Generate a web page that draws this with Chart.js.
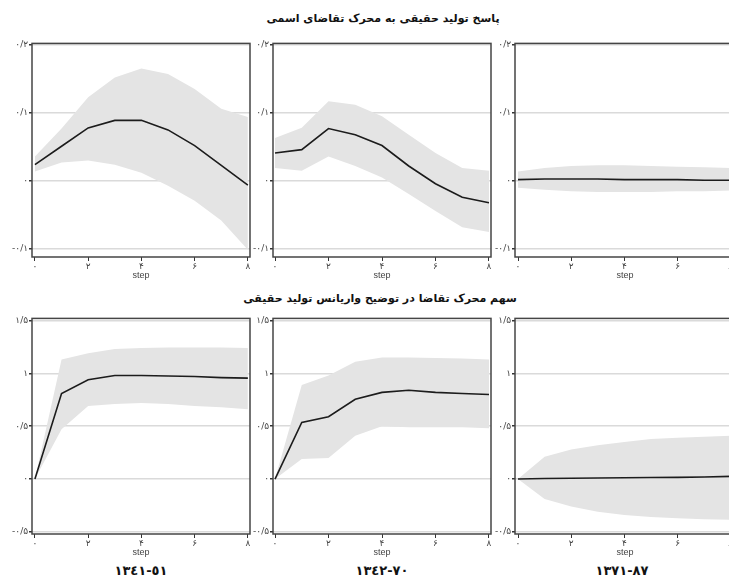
<!DOCTYPE html>
<html>
<head>
<meta charset="utf-8">
<script src="https://cdn.jsdelivr.net/npm/chart.js@4"></script>
<style>
    html, body { margin: 0; padding: 0; width: 729px; height: 580px; overflow: hidden; background: #fff; }
    canvas { position: absolute; }
    .title { position: absolute; font-family: 'DejaVu Sans', sans-serif; font-weight: bold; font-size: 11px; color: #111; text-align: center; white-space: nowrap; }
    .period { position: absolute; top: 563px; width: 160px; text-align: center; font-family: 'DejaVu Sans', sans-serif; font-weight: bold; font-size: 13px; color: #111; }
    .period span { unicode-bidi: bidi-override; direction: ltr; }
</style>
</head>
<body>
<div class="title" dir="rtl" style="left:233px; width:300px; top:12px;">پاسخ تولید حقیقی به محرک تقاضای اسمی</div>
<div class="title" dir="rtl" style="left:230px; width:300px; top:292px;">سهم محرک تقاضا در توضیح واریانس تولید حقیقی</div>

<canvas id="irf1" width="255" height="248" style="left:0px; top:37px;"></canvas>
<canvas id="irf2" width="253" height="248" style="left:243px; top:37px;"></canvas>
<canvas id="irf3" width="255" height="248" style="left:485px; top:37px;"></canvas>
<canvas id="fevd1" width="255" height="250" style="left:0px; top:312px;"></canvas>
<canvas id="fevd2" width="253" height="250" style="left:243px; top:312px;"></canvas>
<canvas id="fevd3" width="255" height="250" style="left:485px; top:312px;"></canvas>

<div class="period" style="left:61px;"><span>١٣٤١-٥١</span></div>
<div class="period" style="left:302px;"><span>١٣٤٢-٧٠</span></div>
<div class="period" style="left:542px;"><span>١٣٧١-٨٧</span></div>

<script>
// langkah horizon
const steps = [0, 1, 2, 3, 4, 5, 6, 7, 8];
const xTickValues = [0, 2, 4, 6, 8];
const xTickLabels = ['۰', '۲', '۴', '۶', '۸'];

// respon output riil terhadap guncangan permintaan nominal
const irfTickValues = [-0.1, 0, 0.1, 0.2];
const irfTickLabels = ['-۰/۱', '۰', '۰/۱', '۰/۲'];

const irfLine1 = [0.024, 0.051, 0.078, 0.089, 0.089, 0.075, 0.052, 0.023, -0.006];
const irfHigh1 = [0.036, 0.077, 0.123, 0.152, 0.165, 0.157, 0.135, 0.106, 0.094];
const irfLow1 = [0.014, 0.027, 0.030, 0.024, 0.012, -0.007, -0.029, -0.058, -0.101];

const irfLine2 = [0.041, 0.046, 0.077, 0.068, 0.052, 0.022, -0.004, -0.024, -0.032];
const irfHigh2 = [0.063, 0.078, 0.117, 0.112, 0.095, 0.068, 0.041, 0.019, 0.015];
const irfLow2 = [0.019, 0.015, 0.036, 0.022, 0.005, -0.019, -0.044, -0.068, -0.075];

const irfLine3 = [0.002, 0.003, 0.003, 0.003, 0.002, 0.002, 0.002, 0.001, 0.001];
const irfHigh3 = [0.014, 0.019, 0.022, 0.023, 0.023, 0.022, 0.021, 0.020, 0.019];
const irfLow3 = [-0.010, -0.013, -0.015, -0.016, -0.016, -0.016, -0.015, -0.015, -0.014];

// kontribusi guncangan permintaan pada varians output
const fevdTickValues = [-0.5, 0, 0.5, 1, 1.5];
const fevdTickLabels = ['-۰/۵', '۰', '۰/۵', '۱', '۱/۵'];

const fevdLine1 = [0, 0.81, 0.94, 0.98, 0.98, 0.975, 0.97, 0.96, 0.955];
const fevdHigh1 = [0, 1.13, 1.19, 1.23, 1.24, 1.245, 1.245, 1.245, 1.24];
const fevdLow1 = [0, 0.47, 0.69, 0.71, 0.72, 0.71, 0.69, 0.68, 0.66];

const fevdLine2 = [0, 0.535, 0.59, 0.755, 0.82, 0.84, 0.82, 0.81, 0.80];
const fevdHigh2 = [0, 0.89, 0.98, 1.11, 1.15, 1.15, 1.145, 1.14, 1.13];
const fevdLow2 = [0, 0.19, 0.20, 0.41, 0.50, 0.49, 0.49, 0.49, 0.48];

const fevdLine3 = [0, 0.005, 0.008, 0.01, 0.012, 0.014, 0.016, 0.02, 0.025];
const fevdHigh3 = [0, 0.21, 0.28, 0.32, 0.35, 0.38, 0.39, 0.40, 0.41];
const fevdLow3 = [0, -0.19, -0.26, -0.31, -0.34, -0.36, -0.37, -0.38, -0.385];

/**
 * Plugin kecil untuk menggambar kotak di sekeliling area grafik.
 */
const boxPlugin = {
    id: 'plotBox',
    afterDatasetsDraw(chart) {
        const a = chart.chartArea;
        const ctx = chart.ctx;
        ctx.save();
        ctx.strokeStyle = '#454545';
        ctx.lineWidth = 1.5;
        ctx.strokeRect(a.left, a.top, a.right - a.left, a.bottom - a.top);
        ctx.restore();
    }
};

const toPoints = (values) => values.map((v, i) => ({ x: steps[i], y: v }));

/**
 * Membuat satu panel: pita abu-abu dan garis hitam.
 */
function createPanel(canvasId, line, low, high, yRange, yTicks, yLabels, xRange, yWidth) {
    const ctx = document.getElementById(canvasId).getContext('2d');
    return new Chart(ctx, {
        type: 'line',
        data: {
            datasets: [
                { data: toPoints(low), borderWidth: 0, pointRadius: 0, fill: false, order: 2 },
                { data: toPoints(high), borderWidth: 0, pointRadius: 0, fill: 0, backgroundColor: '#e4e4e4', order: 1 },
                { data: toPoints(line), borderColor: '#1c1c1c', borderWidth: 1.6, pointRadius: 0, fill: false, order: 0 }
            ]
        },
        options: {
            responsive: false,
            animation: false,
            devicePixelRatio: 1,
            layout: { autoPadding: false, padding: { top: 5, right: 5, bottom: 4, left: 0 } },
            plugins: { legend: { display: false }, tooltip: { enabled: false } },
            elements: { line: { tension: 0 } },
            scales: {
                x: {
                    type: 'linear',
                    min: xRange[0],
                    max: xRange[1],
                    afterBuildTicks: (scale) => { scale.ticks = xTickValues.map(v => ({ value: v })); },
                    afterFit: (scale) => { scale.height = 24; },
                    ticks: {
                        color: '#444',
                        padding: 0,
                        maxRotation: 0,
                        font: { family: "'DejaVu Sans', sans-serif", size: 9 },
                        callback: (v, i) => xTickLabels[i]
                    },
                    grid: { drawOnChartArea: false, tickLength: 4, tickColor: '#333', lineWidth: 1 },
                    border: { display: false },
                    title: {
                        display: true,
                        text: 'step',
                        color: '#444',
                        padding: 0,
                        font: { family: "'Liberation Sans', sans-serif", size: 9 }
                    }
                },
                y: {
                    min: yRange[0],
                    max: yRange[1],
                    afterBuildTicks: (scale) => { scale.ticks = yTicks.map(v => ({ value: v })); },
                    afterFit: (scale) => { scale.width = yWidth; },
                    ticks: {
                        color: '#444',
                        padding: 1,
                        font: { family: "'DejaVu Sans', sans-serif", size: 9 },
                        callback: (v, i) => yLabels[i]
                    },
                    grid: { color: '#dadada', lineWidth: 1.5, tickLength: 3, tickColor: '#333' },
                    border: { display: false }
                }
            }
        },
        plugins: [boxPlugin]
    });
}

const irfRange = [-0.1116, 0.202];
const fevdRange = [-0.52, 1.52];

createPanel('irf1', irfLine1, irfLow1, irfHigh1, irfRange, irfTickValues, irfTickLabels, [-0.11, 8.08], 32);
createPanel('irf2', irfLine2, irfLow2, irfHigh2, irfRange, irfTickValues, irfTickLabels, [-0.075, 8.075], 30);
createPanel('irf3', irfLine3, irfLow3, irfHigh3, irfRange, irfTickValues, irfTickLabels, [-0.113, 8.16], 30);
createPanel('fevd1', fevdLine1, fevdLow1, fevdHigh1, fevdRange, fevdTickValues, fevdTickLabels, [-0.11, 8.08], 32);
createPanel('fevd2', fevdLine2, fevdLow2, fevdHigh2, fevdRange, fevdTickValues, fevdTickLabels, [-0.075, 8.075], 30);
createPanel('fevd3', fevdLine3, fevdLow3, fevdHigh3, fevdRange, fevdTickValues, fevdTickLabels, [-0.113, 8.16], 30);
</script>
</body>
</html>
